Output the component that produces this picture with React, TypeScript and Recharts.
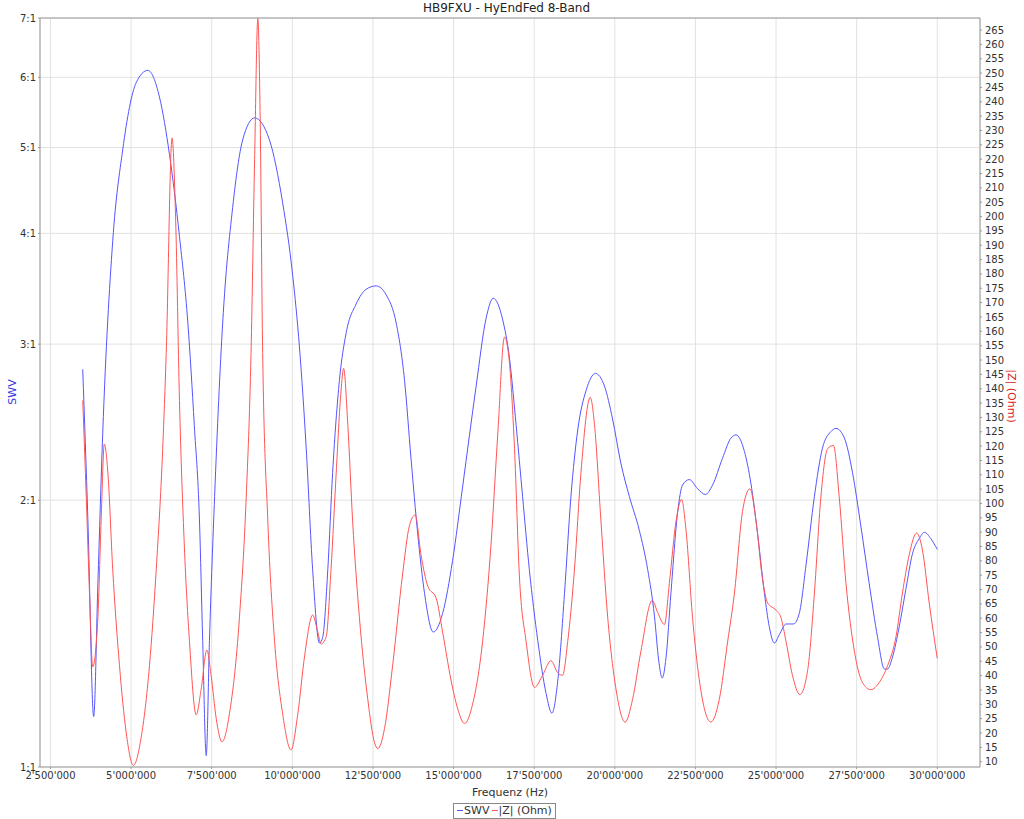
import React from "react";
import {
  LineChart,
  Line,
  XAxis,
  YAxis,
  CartesianGrid,
  ReferenceLine,
  Legend,
} from "recharts";

// frequencies in MHz
const swvFreq = [
  3.5, 3.66, 3.84, 3.97, 4.12, 4.43, 4.74, 5.16, 5.52, 5.88, 6.19, 6.5, 6.76, 6.96, 7.12, 7.22, 7.33,
  7.43, 7.59, 7.84, 8.15, 8.46, 8.83, 9.29, 9.7, 10.01, 10.22, 10.43, 10.63, 10.84, 10.94, 11.1, 11.25,
  11.46, 11.67, 11.98, 12.29, 12.6, 12.91, 13.22, 13.48, 13.68, 13.89, 14.1, 14.37, 14.66, 14.97, 15.28,
  15.7, 16.01, 16.23, 16.52, 16.73, 16.94, 17.14, 17.35, 17.61, 17.87, 18.05, 18.23, 18.44, 18.64, 18.85,
  19.11, 19.4, 19.68, 19.93, 20.19, 20.45, 20.76, 21.02, 21.23, 21.36, 21.47, 21.59, 21.74, 21.95, 22.1,
  22.31, 22.57, 22.81, 23.03, 23.34, 23.6, 23.76, 24.02, 24.22, 24.43, 24.64, 24.79, 24.95, 25.1, 25.31,
  25.54, 25.72, 25.93, 26.19, 26.44, 26.7, 26.86, 27.12, 27.37, 27.63, 27.89, 28.15, 28.36, 28.46, 28.61,
  28.82, 29.03, 29.23, 29.44, 29.6, 29.8, 30.0,
];
const swvValues = [
  2.81, 1.9, 1.14, 1.61, 2.38, 3.92, 4.97, 5.92, 6.11, 5.7, 4.91, 3.97, 3.17, 2.43, 1.9, 1.39, 1.03,
  1.39, 2.02, 3.17, 4.28, 5.1, 5.4, 5.1, 4.33, 3.59, 2.98, 2.29, 1.67, 1.38, 1.4, 1.67, 2.15,
  2.73, 3.09, 3.33, 3.46, 3.49, 3.41, 3.17, 2.73, 2.23, 1.83, 1.57, 1.42, 1.49, 1.71, 2.07,
  2.69, 3.21, 3.38, 3.2, 2.9, 2.43, 2.02, 1.67, 1.39, 1.21, 1.15, 1.25, 1.57, 2.02, 2.4,
  2.66, 2.78, 2.69, 2.47, 2.2, 2.02, 1.85, 1.67, 1.48, 1.32, 1.26, 1.33, 1.57, 1.94, 2.08,
  2.11, 2.06, 2.03, 2.08, 2.23, 2.35, 2.37, 2.27, 2.09, 1.83, 1.57, 1.44, 1.38, 1.41, 1.45,
  1.45, 1.49, 1.69, 2.02, 2.29, 2.39, 2.41, 2.35, 2.15, 1.87, 1.61, 1.4, 1.29, 1.29, 1.33,
  1.44, 1.59, 1.74, 1.81, 1.84, 1.81, 1.76,
];

const zFreq = [
  3.5, 3.61, 3.71, 3.81, 3.97, 4.07, 4.17, 4.28, 4.43, 4.64, 4.85, 5.07, 5.31, 5.57, 5.78, 5.98, 6.09,
  6.27, 6.38, 6.5, 6.65, 6.81, 7.02, 7.17, 7.35, 7.48, 7.64, 7.82, 8.05, 8.36, 8.57, 8.72, 8.83, 8.93,
  9.0, 9.08, 9.24, 9.45, 9.7, 9.96, 10.17, 10.38, 10.63, 10.79, 10.89, 11.05, 11.2, 11.36, 11.51, 11.59,
  11.72, 11.87, 12.08, 12.34, 12.55, 12.65, 12.86, 13.11, 13.42, 13.63, 13.81, 13.99, 14.2, 14.46, 14.66,
  14.92, 15.13, 15.34, 15.59, 15.9, 16.16, 16.37, 16.58, 16.73, 16.89, 17.04, 17.25, 17.51, 17.76, 18.02,
  18.23, 18.38, 18.54, 18.75, 18.95, 19.24, 19.37, 19.57, 19.78, 20.04, 20.32, 20.55, 20.81, 21.16, 21.33,
  21.54, 21.69, 21.9, 22.07, 22.21, 22.41, 22.62, 22.98, 23.24, 23.5, 23.71, 23.96, 24.19, 24.38, 24.58,
  24.74, 25.0, 25.15, 25.31, 25.51, 25.74, 25.98, 26.19, 26.39, 26.6, 26.78, 26.96, 27.17, 27.43, 27.68,
  27.94, 28.2, 28.46, 28.72, 28.92, 29.13, 29.36, 29.54, 29.75, 30.0,
];
const zValues = [
  135.9, 102.2, 68.8, 43.1, 60.3, 93.9, 120.7, 110.7, 77.1, 43.5, 20.0, 8.7, 18.3, 43.5, 77.1, 119.1, 152.6,
  227.4, 199.7, 135.9, 85.5, 51.9, 26.3, 35.1, 48.9, 40.1, 25.0, 16.9, 26.7, 60.3, 102.2, 152.6, 219.8, 269.0,
  236.6, 152.6, 93.9, 51.9, 26.7, 14.1, 26.7, 46.8, 61.1, 55.2, 51.0, 53.6, 77.1, 110.6, 139.2, 147.1,
  127.5, 93.9, 60.3, 31.7, 16.6, 14.6, 21.6, 43.5, 75.4, 92.2, 96.0, 82.1, 71.2, 67.0, 55.2,
  38.5, 28.4, 23.3, 30.0, 51.9, 85.5, 124.1, 158.0, 149.3, 119.1, 75.0, 51.9, 35.9, 40.1, 45.2,
  41.0, 40.1, 51.9, 77.1, 110.7, 137.0, 127.5, 93.9, 60.3, 35.1, 23.8, 31.7, 48.5, 66.2, 62.0,
  57.8, 72.0, 93.9, 101.4, 90.5, 60.3, 38.5, 23.8, 31.7, 51.9, 68.8, 97.2, 105.1, 93.9, 73.7,
  65.3, 62.8, 60.3, 51.9, 40.1, 33.4, 41.8, 68.8, 102.2, 119.1, 120.2, 102.2, 72.0, 48.5, 37.6,
  35.1, 37.6, 43.5, 53.6, 68.8, 82.1, 89.7, 83.8, 65.3, 46.0,
];

const freqTicks = [2.5, 5, 7.5, 10, 12.5, 15, 17.5, 20, 22.5, 25, 27.5, 30];
const swvTicks = [1, 2, 3, 4, 5, 6, 7];
const zTicks = Array.from({ length: 52 }, (_, i) => 10 + i * 5);

const swvData = swvFreq.map((f, i) => ({ f, swv: swvValues[i] }));
const zData = zFreq.map((f, i) => ({ f, z: zValues[i] }));

const BLUE = "#5555ff";
const RED = "#ff5555";
const FONT = "DejaVu Sans, sans-serif";
const tickStyle = { fontSize: 10, fill: "#333", fontFamily: FONT };

const fmtHz = (v: number) =>
  Math.round(v * 1e6)
    .toString()
    .replace(/\B(?=(\d{3})+(?!\d))/g, "'");

const renderLegend = () => (
  <div style={{ textAlign: "center" }}>
    <div
      style={{
        display: "inline-flex",
        alignItems: "center",
        border: "1px solid #888",
        padding: "0 3px",
        fontSize: 11,
        lineHeight: "14px",
        fontFamily: FONT,
        color: "#333",
      }}
    >
      <span style={{ display: "inline-block", width: 6, height: 1, background: BLUE, marginRight: 1 }} />
      SWV
      <span style={{ display: "inline-block", width: 6, height: 1, background: RED, margin: "0 1px 0 2px" }} />
      |Z| (Ohm)
    </div>
  </div>
);

export default function App() {
  return (
    <div style={{ position: "absolute", left: 0, top: 0, width: 1024, height: 819, fontFamily: FONT }}>
      <div
        style={{
          position: "absolute",
          top: 0,
          left: 0,
          width: 1013,
          textAlign: "center",
          fontSize: 12,
          lineHeight: "16px",
          color: "#222",
        }}
      >
        HB9FXU - HyEndFed 8-Band
      </div>
      <LineChart width={1024} height={819} margin={{ top: 18, right: 0, bottom: 22, left: 0 }}>
        <CartesianGrid yAxisId="left" stroke="#e2e2e2" />
        <XAxis
          type="number"
          dataKey="f"
          domain={[2.175, 31.325]}
          ticks={freqTicks}
          interval={0}
          tickFormatter={fmtHz}
          tick={tickStyle}
          tickSize={2}
          tickMargin={3}
          height={30}
          axisLine={{ stroke: "#999" }}
          tickLine={{ stroke: "#999" }}
          allowDataOverflow
          label={() => (
            <text x={510} y={796} textAnchor="middle" fontSize={11} fill="#333" fontFamily={FONT}>
              Frequenz (Hz)
            </text>
          )}
        />
        <YAxis
          yAxisId="left"
          scale="log"
          domain={[1, 7]}
          ticks={swvTicks}
          interval={0}
          allowDataOverflow
          tickFormatter={(v: number) => `${v}:1`}
          tick={tickStyle}
          tickSize={2}
          tickMargin={2}
          width={40}
          axisLine={{ stroke: "#999" }}
          tickLine={{ stroke: "#999" }}
          label={() => (
            <text
              x={12}
              y={392}
              transform="rotate(-90 12 392)"
              textAnchor="middle"
              dominantBaseline="central"
              fontSize={11}
              fill="#3333dd"
              fontFamily={FONT}
            >
              SWV
            </text>
          )}
        />
        <YAxis
          yAxisId="right"
          orientation="right"
          domain={[8.15, 269.2]}
          ticks={zTicks}
          interval={0}
          allowDataOverflow
          tick={tickStyle}
          tickSize={2}
          tickMargin={3}
          width={44}
          axisLine={{ stroke: "#999" }}
          tickLine={{ stroke: "#999" }}
          label={() => (
            <text
              x={1011}
              y={396}
              transform="rotate(90 1011 396)"
              textAnchor="middle"
              dominantBaseline="central"
              fontSize={11}
              fill="#dd2222"
              fontFamily={FONT}
            >
              |Z| (Ohm)
            </text>
          )}
        />
        <ReferenceLine yAxisId="left" y={7} stroke="#999" />
        <Line
          data={swvData}
          dataKey="swv"
          name="SWV"
          yAxisId="left"
          type="monotone"
          stroke={BLUE}
          strokeWidth={1}
          dot={false}
          isAnimationActive={false}
        />
        <Line
          data={zData}
          dataKey="z"
          name="|Z| (Ohm)"
          yAxisId="right"
          type="monotone"
          stroke={RED}
          strokeWidth={1}
          dot={false}
          isAnimationActive={false}
        />
        <Legend
          layout="horizontal"
          verticalAlign="middle"
          align="center"
          wrapperStyle={{ top: 796, left: 0, width: 1009 }}
          content={renderLegend}
        />
      </LineChart>
    </div>
  );
}
